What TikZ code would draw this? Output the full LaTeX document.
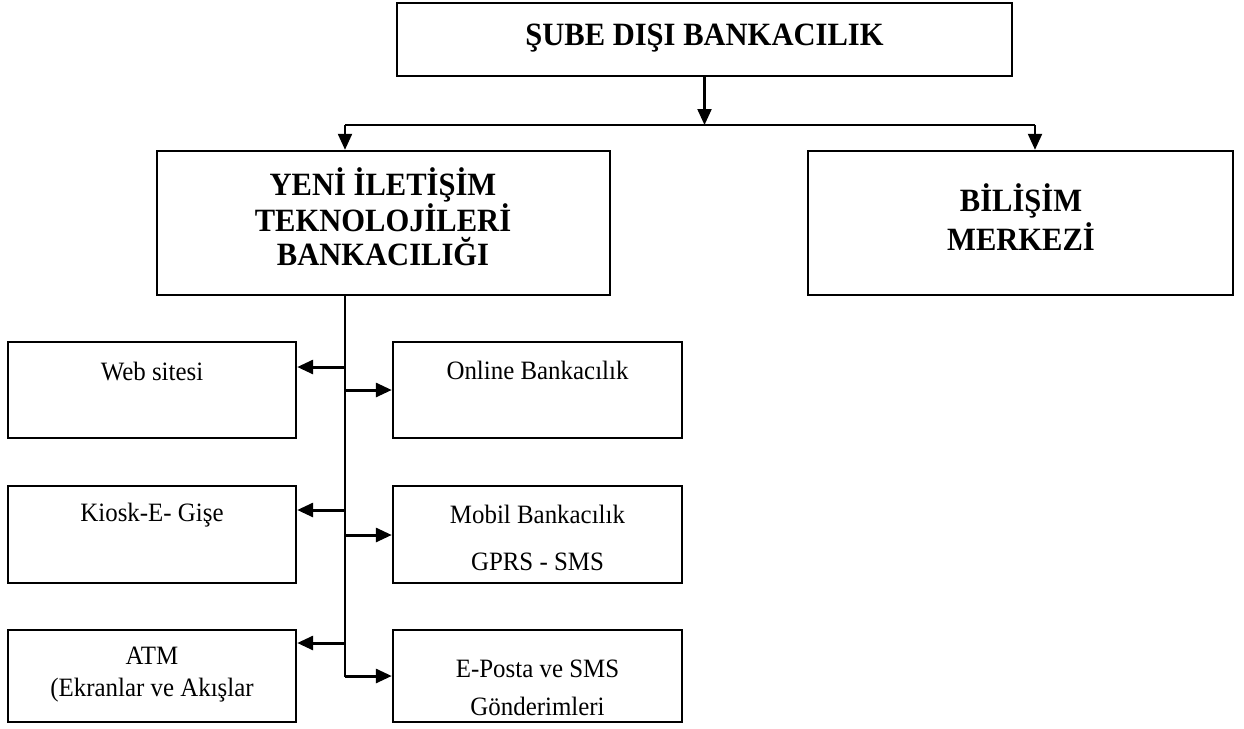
\documentclass[tikz,border=0pt]{standalone}
\usepackage{fontspec}
\setmainfont[FakeStretch=0.94]{Liberation Serif}
\usetikzlibrary{arrows.meta}
\begin{document}
\begin{tikzpicture}[x=1pt,y=-1pt,
  box/.style={draw=black,line width=2.4pt,rectangle,inner sep=0pt},
  bigtxt/.style={inner sep=0pt,align=center,font=\fontsize{32.5}{34}\selectfont\bfseries},
  smalltxt/.style={inner sep=0pt,align=center,font=\fontsize{26.5}{29}\selectfont},
  conn/.style={line width=2.2pt},
  arr/.style={line width=2.2pt,-{Triangle[length=16pt,width=14pt]}},
  harr/.style={line width=3pt,-{Triangle[length=16pt,width=14pt]}}
]
\useasboundingbox (0,0) rectangle (1244,728);
\fill[white] (0,0) rectangle (1244,728);

% boxes
\node[box,minimum width=615pt,minimum height=73pt] (top) at (704.5,39.5) {};
\node[box,minimum width=453pt,minimum height=144pt] (yeni) at (383.5,223) {};
\node[box,minimum width=425pt,minimum height=144pt] (bil) at (1020.5,223) {};
\node[box,minimum width=288pt,minimum height=96pt] (l1) at (152,390) {};
\node[box,minimum width=289pt,minimum height=96pt] (r1) at (537.5,390) {};
\node[box,minimum width=288pt,minimum height=97pt] (l2) at (152,534.5) {};
\node[box,minimum width=289pt,minimum height=97pt] (r2) at (537.5,534.5) {};
\node[box,minimum width=288pt,minimum height=92pt] (l3) at (152,676) {};
\node[box,minimum width=289pt,minimum height=92pt] (r3) at (537.5,676) {};

% texts
\node[bigtxt] (ttop) at (704.5,38) {ŞUBE DIŞI BANKACILIK};
\node[bigtxt] (tyeni) at (383,217) {YENİ İLETİŞİM\\TEKNOLOJİLERİ\\BANKACILIĞI};
\node[bigtxt,font=\fontsize{32.5}{39}\selectfont\bfseries] (tbil) at (1021,217) {BİLİŞİM\\MERKEZİ};
\node[smalltxt] (tl1) at (152,372) {Web sitesi};
\node[smalltxt] (tr1) at (537.5,370) {Online Bankacılık};
\node[smalltxt] (tl2) at (152,515) {Kiosk-E- Gişe};
\node[smalltxt,font=\fontsize{26.5}{47}\selectfont] (tr2) at (537.5,538) {Mobil Bankacılık\\GPRS - SMS};
\node[smalltxt,font=\fontsize{26.5}{32}\selectfont] (tl3) at (152,675) {ATM\\(Ekranlar ve Akışlar};
\node[smalltxt,font=\fontsize{26.5}{38}\selectfont] (tr3) at (537.5,688) {E-Posta ve SMS\\Gönderimleri};

% junction coordinates
\coordinate (hl) at (345,125);
\coordinate (hr) at (1035,125);
\coordinate (hm) at (704.5,125);
\coordinate (vtop) at (345,295);
\coordinate (vbot) at (345,677);
\coordinate (a1) at (345,367);
\coordinate (b1) at (345,390);
\coordinate (a2) at (345,510);
\coordinate (b2) at (345,535);
\coordinate (a3) at (345,643);
\coordinate (b3) at (345,676);

% connectors
\draw[arr] (top.south) -- (hm);
\draw[conn] (hl) -- (hr);
\draw[arr] (hl) -- (hl |- yeni.north);
\draw[arr] (hr) -- (hr |- bil.north);
\draw[conn] (vtop) -- (vbot);
\draw[harr] (a1) -- (a1 -| l1.east);
\draw[harr] (b1) -- (b1 -| r1.west);
\draw[harr] (a2) -- (a2 -| l2.east);
\draw[harr] (b2) -- (b2 -| r2.west);
\draw[harr] (a3) -- (a3 -| l3.east);
\draw[harr] (b3) -- (b3 -| r3.west);
\end{tikzpicture}
\end{document}
